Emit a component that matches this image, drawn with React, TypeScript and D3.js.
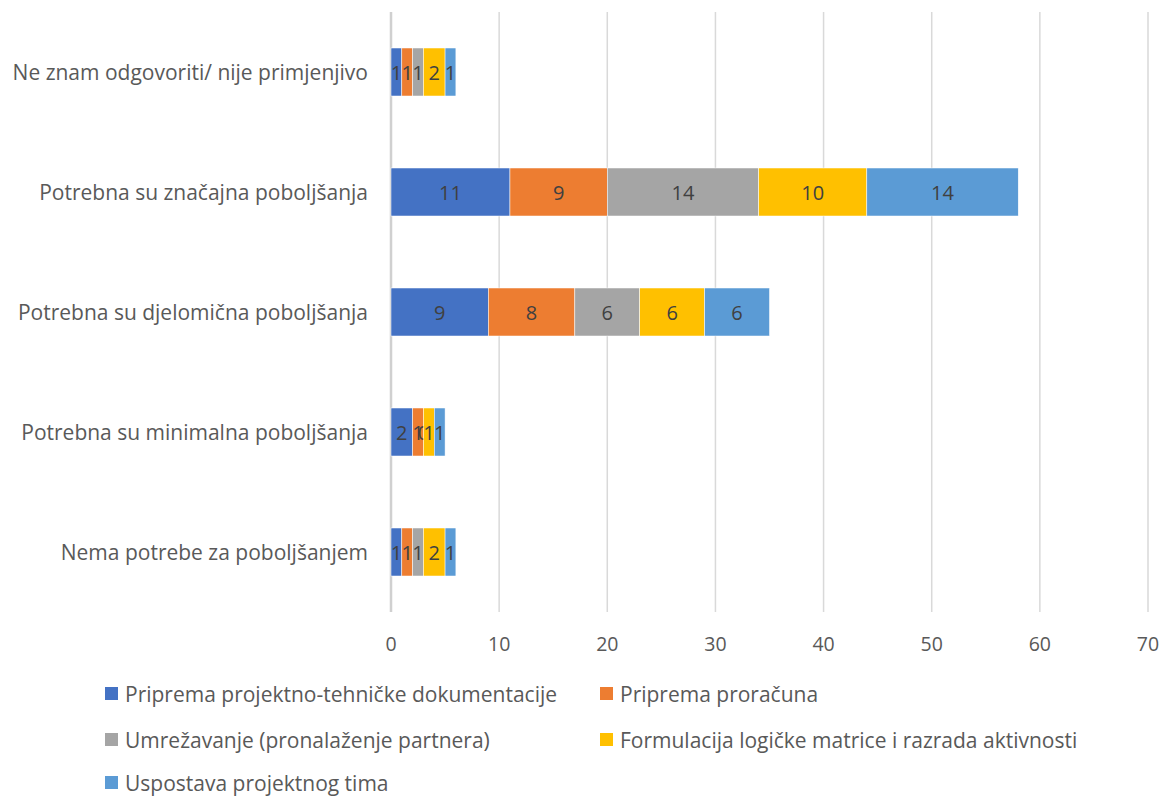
import React from "react";
import * as d3 from "d3";

const categories = [
  "Ne znam odgovoriti/ nije primjenjivo",
  "Potrebna su značajna poboljšanja",
  "Potrebna su djelomična poboljšanja",
  "Potrebna su minimalna poboljšanja",
  "Nema potrebe za poboljšanjem",
];
const seriesNames = [
  "Priprema projektno-tehničke dokumentacije",
  "Priprema proračuna",
  "Umrežavanje (pronalaženje partnera)",
  "Formulacija logičke matrice i razrada aktivnosti",
  "Uspostava projektnog tima",
];
const s1 = [1, 11, 9, 2, 1];
const s2 = [1, 9, 8, 1, 1];
const s3 = [1, 14, 6, 0, 1];
const s4 = [2, 10, 6, 1, 2];
const s5 = [1, 14, 6, 1, 1];
const colors = ["#4472C4", "#ED7D31", "#A5A5A5", "#FFC000", "#5B9BD5"];
const xTicks = [0, 10, 20, 30, 40, 50, 60, 70];

const W = 1164;
const H = 798;
const FONT = "'Open Sans', sans-serif";

export default function App() {
  const left = 391;
  const right = 1148;
  const top = 12;
  const bottom = 612;
  const x = d3.scaleLinear().domain([0, 70]).range([left, right]);
  const y = d3.scaleBand().domain(categories).range([top, bottom]).paddingInner(0.6).paddingOuter(0.3);
  const rows = categories.map((c, i) => ({ cat: c, vals: [s1[i], s2[i], s3[i], s4[i], s5[i]] }));
  const stack = d3.stack<any>().keys(["0", "1", "2", "3", "4"]).value((d, k) => d.vals[+k]);
  const stacked = stack(rows as any);
  const legendPos = [
    [105, 694],
    [600, 694],
    [105, 740],
    [600, 740],
    [105, 783],
  ];
  return (
    <svg width={W} height={H} style={{ display: "block", position: "absolute", left: 0, top: 0 }} fontFamily={FONT}>
      <rect width={W} height={H} fill="#fff" />
      {xTicks.map((t) => (
        <line key={t} x1={x(t)} x2={x(t)} y1={top} y2={bottom} stroke={t === 0 ? "#d0d0d0" : "#d9d9d9"} strokeWidth={t === 0 ? 2.5 : 1.5} />
      ))}
      {xTicks.map((t) => (
        <text key={"t" + t} x={x(t)} y={643} textAnchor="middle" dominantBaseline="central" fontSize={19.5} fill="#595959">
          {t}
        </text>
      ))}
      {categories.map((c) => (
        <text key={c} x={368} y={y(c)! + y.bandwidth() / 2} textAnchor="end" dominantBaseline="central" fontSize={21} fill="#595959">
          {c}
        </text>
      ))}
      {stacked.map((layer, si) => (
        <g key={si}>
          {layer.map((d: any, ri) => {
            const cat = categories[ri];
            const x0 = x(d[0]);
            const x1 = x(d[1]);
            return (
              <g key={ri}>
                <rect x={x0} y={y(cat)} width={x1 - x0} height={y.bandwidth()} fill={colors[si]} stroke="#fff" strokeWidth={0.5} />
                <text x={(x0 + x1) / 2} y={y(cat)! + y.bandwidth() / 2} textAnchor="middle" dominantBaseline="central" fontSize={20} fill="#404040">
                  {d[1] - d[0]}
                </text>
              </g>
            );
          })}
        </g>
      ))}
      {seriesNames.map((n, i) => (
        <g key={n}>
          <rect x={legendPos[i][0]} y={legendPos[i][1] - 7} width={13} height={13} fill={colors[i]} />
          <text x={legendPos[i][0] + 20} y={legendPos[i][1]} dominantBaseline="central" fontSize={21} fill="#595959">
            {n}
          </text>
        </g>
      ))}
    </svg>
  );
}
